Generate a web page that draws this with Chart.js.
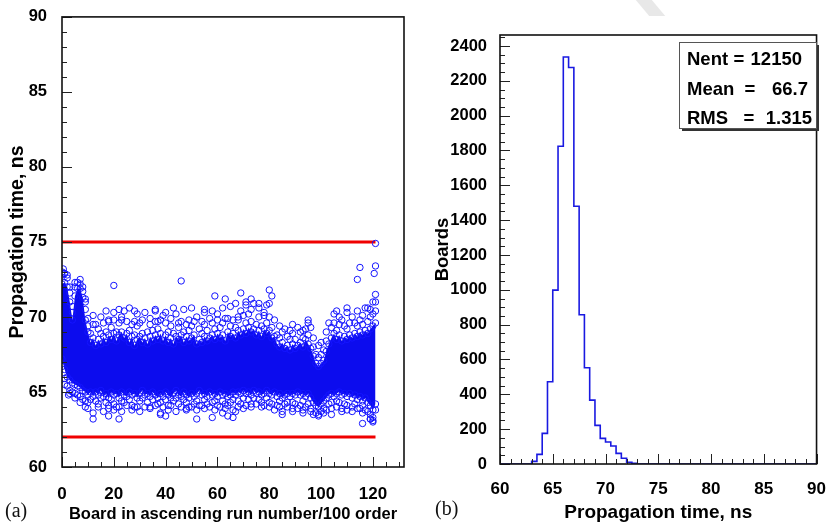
<!DOCTYPE html>
<html>
<head>
<meta charset="utf-8">
<script src="https://cdn.jsdelivr.net/npm/chart.js@4.4.1/dist/chart.umd.min.js"></script>
<style>
  body { margin: 0; background: #fff; }
  #wrap { position: relative; width: 833px; height: 526px; overflow: hidden; }
  #left { position: absolute; left: 0; top: 0; }
  #right { position: absolute; left: 420px; top: 0; }
  .tag { position: absolute; font-family: "Liberation Serif", "DejaVu Serif", serif; font-size: 20px; color: #111; line-height: 20px; }
  .mark { position: absolute; left: 640px; top: -6px; width: 16px; height: 22px; background: #e8e8e8; transform: skewX(40deg); }
</style>
</head>
<body>
<div id="wrap">
  <div class="mark"></div>
  <canvas id="left" width="420" height="526"></canvas>
  <canvas id="right" width="413" height="526"></canvas>
  <div class="tag" style="left:5px; top:500px;">(a)</div>
  <div class="tag" style="left:435px; top:498px;">(b)</div>
</div>
<script>
// ---- panel (a): propagation time per board, x = board index / 100 ----
var boardX = [];
for (var i = 0; i <= 121; i++) boardX.push(i);

// edges of the dense core of the cloud
var coreHi = [72.2,72.3,72.0,71.0,69.8,71.4,71.9,71.9,71.3,69.8, 69.0,68.3,68.6,68.1,68.5,68.2,68.7,68.3,68.8,68.5,
  68.9,68.4,68.8,69.0,68.6,68.9,68.3,68.7,68.1,68.5, 68.7,68.3,68.6,68.2,68.7,68.4,68.8,68.5,68.9,68.4,
  68.8,68.3,68.6,68.2,68.7,68.5,68.8,68.3,68.7,68.4, 68.6,68.8,68.2,68.5,68.3,68.7,68.4,68.6,68.8,68.5,
  68.9,68.6,68.8,68.4,69.0,68.7,68.9,68.6,69.1,68.8, 69.2,68.9,69.3,69.0,69.2,68.8,69.1,68.7,69.2,68.9,
  69.1,68.6,68.7,68.2,68.0,68.3,67.9,68.1,67.8,68.2, 67.9,68.1,68.3,68.0,68.5,68.2,67.9,67.4,66.9,66.7,
  66.9,67.1,67.7,68.2,68.6,68.9,68.5,68.8,68.4,68.7, 68.5,68.8,68.6,68.9,68.7,69.0,68.8,69.1,68.9,69.2,
  69.4,69.6];
var coreLo = [67.2,66.5,66.0,65.8,65.6,65.5,65.4,65.3,65.1,65.0, 64.8,65.0,64.7,65.0,64.8,65.1,64.7,64.9,64.6,65.0,
  64.8,64.9,64.6,65.0,64.8,64.7,65.0,64.8,64.9,64.6, 64.9,65.1,64.8,64.9,64.7,65.0,64.8,64.6,64.9,64.7,
  65.0,64.8,64.6,64.9,65.1,64.8,64.7,65.0,64.8,64.6, 64.9,64.7,64.9,65.1,64.8,64.9,64.7,65.0,64.8,64.9,
  64.7,65.0,64.8,64.9,64.7,64.8,65.0,64.8,65.0,64.9, 65.1,64.9,65.0,64.8,65.1,64.9,65.0,64.8,64.9,65.1,
  64.9,64.8,65.0,64.7,64.9,64.6,64.8,64.9,64.7,64.9, 64.8,65.0,64.8,64.9,64.7,64.9,64.6,64.3,64.1,64.0,
  64.2,64.4,64.6,64.8,64.9,64.7,64.9,65.0,64.8,64.9, 64.7,64.9,64.6,64.8,64.5,64.7,64.4,64.6,64.3,64.1,
  63.8,64.2];
// scattered circles above the core (inner and outer fringe)
var upB = [72.8,72.9,72.6,71.6,70.3,72.0,72.3,72.2,71.7,70.5, 69.4,68.9,69.5,null,69.2,68.9,69.6,69.0,69.7,69.3,
  69.8,69.0,69.6,70.0,null,69.7,69.1,69.5,68.8,69.4, 69.6,68.9,null,69.0,69.5,69.1,69.7,69.2,69.8,null,
  69.6,69.0,69.4,68.9,null,69.3,69.7,69.0,69.5,69.1, 69.4,69.7,null,69.2,68.9,69.5,69.1,null,69.6,69.2,
  69.8,69.3,69.6,null,69.9,69.4,69.8,69.3,70.0,null, 70.1,69.6,70.2,69.7,null,69.5,70.0,69.4,70.1,69.6,
  70.0,69.3,null,68.8,68.6,69.0,null,68.7,68.5,68.9, 68.5,null,69.0,68.6,69.2,68.8,null,68.0,67.5,67.3,
  67.5,67.8,68.4,null,69.3,69.6,69.1,69.5,null,69.4, 69.2,69.6,null,69.6,69.4,69.8,69.5,null,69.7,70.0,
  70.2,70.4];
var upA = [73.0,null,72.8,72.0,70.7,72.3,null,72.5,72.0,71.0, 69.9,null,70.1,69.5,null,70.0,null,70.4,69.8,null,
  70.3,null,70.5,69.8,70.4,null,70.6,null,69.7,70.2, null,69.8,70.3,null,69.9,null,70.4,69.7,null,70.1,
  70.3,null,69.9,null,70.2,69.6,null,70.5,null,69.8, 70.6,null,70.0,null,69.7,70.3,null,69.9,70.4,null,
  70.2,null,70.6,69.9,null,70.7,null,70.9,69.8,70.4, null,70.8,null,70.5,70.9,null,70.6,null,70.3,70.8,
  70.9,null,69.8,null,69.4,null,69.2,null,69.1,69.5, null,69.3,null,69.1,null,69.6,null,68.6,null,68.1,
  68.3,null,69.0,69.6,null,70.2,null,70.0,69.8,null, 70.3,null,70.0,null,70.4,null,70.1,70.6,null,70.5,
  71.0,null];
// scattered circles below the core
var loB = [66.7,65.9,65.4,65.1,65.0,64.9,64.8,64.7,64.5,64.4, 64.3,64.5,null,64.4,64.2,64.6,null,64.3,64.1,64.5,
  64.2,null,64.0,64.4,64.3,null,64.5,64.1,null,64.0, 64.4,64.6,null,64.3,64.0,64.5,null,64.2,64.3,null,
  64.5,64.1,null,64.4,64.6,64.2,null,64.5,64.3,64.0, null,64.2,64.4,null,64.1,64.5,64.2,null,64.3,64.4,
  64.1,null,64.4,64.2,null,64.3,64.5,null,64.4,64.2, 64.6,null,64.5,64.2,64.6,null,64.5,64.3,null,64.6,
  64.3,64.2,null,64.1,64.4,null,64.2,64.3,null,64.3, 64.2,null,64.1,64.4,null,64.2,63.9,null,63.6,63.5,
  63.7,63.9,null,64.2,64.3,null,64.4,64.3,null,64.2, 64.1,null,64.0,64.2,null,63.9,64.1,null,63.7,63.5,
  63.3,63.8];
var loA = [null,65.5,null,64.9,null,64.6,null,64.3,null,64.0, 63.9,null,63.6,null,64.0,null,63.7,null,63.9,null,
  63.8,64.0,null,63.7,null,64.1,null,63.8,64.0,null, 63.7,null,64.0,null,63.9,null,64.1,null,63.6,64.0,
  null,63.8,64.1,null,63.7,null,64.0,null,63.9,null, 64.0,null,63.8,64.1,null,63.9,null,64.0,null,63.8,
  null,64.0,null,63.9,64.1,null,63.8,null,64.0,null, 63.9,64.1,null,64.0,null,64.2,null,64.0,64.1,null,
  64.0,null,63.8,null,64.0,63.7,null,64.0,null,63.9, null,63.9,null,63.8,64.0,null,63.7,63.5,null,63.4,
  null,63.6,63.8,null,63.9,null,64.0,null,63.9,null, 63.8,null,63.7,null,63.9,null,63.6,63.8,null,63.2,
  63.1,null];
// isolated boards [x, y]
var outliers = [[0.5,73.2],[1,72.9],[2.5,64.8],[9,71.2],[12,63.2],[18,63.4],[20,72.1],[22,63.2],[28,70.4],
  [36,70.5],[38,63.5],[40,63.4],[43,70.6],[46,72.4],[48,63.8],[52,63.2],[55,70.5],[58,63.3],[59,71.4],
  [62,63.6],[63,71.2],[64,63.4],[66,63.3],[67,63.7],[69,71.6],[71,71.0],[73,71.2],[76,70.9],[80,71.8],
  [81,71.4],[85,63.5],[89,63.7],[93,63.6],[95,69.8],[96,69.3],[104,63.5],[106,70.4],[108,63.7],[110,70.6],
  [114,72.5],[115,73.3],[116,62.9],[118,70.6],[119,63.2],[120,63.0],[120.5,72.9],[121,74.9],[121,73.4],
  [121,71.5],[121,71.0]];
var limitHi = 75, limitLo = 62;
var limitX = [0, 121];

// ---- panel (b): histogram, 0.5 ns bins from 60 to 90 ----
var binLow = [];
for (var b = 0; b < 60; b++) binLow.push(60 + b * 0.5);
var counts = [0,0,0,0,0,0,15,55,176,472, 998,1824,2337,2276,1480,857,553,367,222,147,
  126,103,61,33,10,4,0,0,0,0, 0,0,0,0,0,0,0,0,0,0, 0,0,0,0,0,0,0,0,0,0, 0,0,0,0,0,0,0,0,0,0];
var statLabels = ["Nent", "Mean", "RMS"];
var statValues = ["12150", "66.7", "1.315"];

var FONT = '"Liberation Sans", Arial, Helvetica, sans-serif';
var BLUE = 'rgb(20,20,255)';
Chart.defaults.font.family = FONT;
Chart.defaults.color = '#000';

function pts(ys) { return boardX.map(function (x, i) { return { x: x, y: ys[i] }; }); }

function pointSet(data, extra) {
  var d = {
    data: data, showLine: false, pointRadius: 3.2, pointBorderWidth: 1,
    pointBorderColor: BLUE, pointBackgroundColor: 'rgba(0,0,0,0)', borderColor: 'rgba(0,0,0,0)'
  };
  for (var k in extra) d[k] = extra[k];
  return d;
}

function frameTicks(xMinor, xMajor, yMinor, yMajor) {
  return {
    id: 'frameTicks',
    afterDatasetsDraw: function (chart) {
      var ctx = chart.ctx, ca = chart.chartArea, xs = chart.scales.x, ys = chart.scales.y;
      ctx.save();
      ctx.strokeStyle = '#222';
      ctx.lineWidth = 1;
      ctx.beginPath();
      for (var v = xs.min; v <= xs.max + 1e-6; v += xMinor) {
        var px = Math.round(xs.getPixelForValue(v)) + 0.5;
        var major = Math.abs(v / xMajor - Math.round(v / xMajor)) < 1e-6;
        ctx.moveTo(px, ca.bottom);
        ctx.lineTo(px, ca.bottom - (major ? 10 : 5));
      }
      for (var w = ys.min; w <= ys.max + 1e-6; w += yMinor) {
        var py = Math.round(ys.getPixelForValue(w)) + 0.5;
        var maj = Math.abs(w / yMajor - Math.round(w / yMajor)) < 1e-6;
        ctx.moveTo(ca.left, py);
        ctx.lineTo(ca.left + (maj ? 10 : 5), py);
      }
      ctx.stroke();
      ctx.lineWidth = 1.6;
      ctx.strokeStyle = '#111';
      ctx.strokeRect(ca.left, ca.top, ca.right - ca.left, ca.bottom - ca.top);
      ctx.restore();
    }
  };
}

function plain(v) { return String(v); }

function axisX(min, max, step, h, tickPad, title, titleSize, titlePad) {
  return {
    type: 'linear', min: min, max: max, position: 'bottom',
    grid: { display: false }, border: { display: false },
    ticks: { stepSize: step, includeBounds: false, padding: tickPad, maxRotation: 0, callback: plain,
      font: { size: 17, weight: 'bold' }, color: '#000' },
    title: { display: true, text: title, color: '#000',
      font: { size: titleSize, weight: 'bold', lineHeight: 1 }, padding: { top: 0, bottom: titlePad } },
    afterFit: function (s) { s.height = h; }
  };
}
function axisY(min, max, step, w, tickPad, title, titleSize, titlePad) {
  return {
    type: 'linear', min: min, max: max, position: 'left',
    grid: { display: false }, border: { display: false },
    ticks: { stepSize: step, includeBounds: false, padding: tickPad, callback: plain,
      font: { size: 16.5, weight: 'bold' }, color: '#000' },
    title: { display: true, text: title, color: '#000',
      font: { size: titleSize, weight: 'bold', lineHeight: 1 }, padding: { top: titlePad, bottom: 0 } },
    afterFit: function (s) { s.width = w; }
  };
}

new Chart(document.getElementById('left'), {
  type: 'line',
  data: {
    datasets: [
      pointSet(outliers.map(function (p) { return { x: p[0], y: p[1] }; })),
      pointSet(pts(upA)), pointSet(pts(upB)), pointSet(pts(loA)), pointSet(pts(loB)),
      pointSet(pts(coreLo)),
      pointSet(pts(coreHi), { showLine: true, fill: '-1', backgroundColor: 'rgb(12,12,238)', borderWidth: 0 }),
      { data: limitX.map(function (x) { return { x: x, y: limitHi }; }), borderColor: 'rgb(240,0,0)', borderWidth: 3, pointRadius: 0 },
      { data: limitX.map(function (x) { return { x: x, y: limitLo }; }), borderColor: 'rgb(240,0,0)', borderWidth: 3, pointRadius: 0 }
    ]
  },
  options: {
    responsive: false, animation: false, events: [],
    layout: { padding: { left: 0, top: 14, right: 16, bottom: 0 } },
    plugins: { legend: { display: false }, tooltip: { enabled: false } },
    scales: {
      x: axisX(0, 132, 20, 59, 9, 'Board in ascending run number/100 order', 16.5, 3),
      y: axisY(60, 90, 5, 62, 7, 'Propagation time, ns', 19.5, 8)
    }
  },
  plugins: [frameTicks(5, 20, 1, 5)]
});

var statsBox = {
  id: 'statsBox',
  afterDraw: function (chart) {
    var ctx = chart.ctx;
    var l = 259, t = 42, r = 396, btm = 128;
    ctx.save();
    ctx.fillStyle = '#333';
    ctx.fillRect(l + 3, t + 3, r - l, btm - t);
    ctx.fillStyle = '#fff';
    ctx.fillRect(l, t, r - l, btm - t);
    ctx.strokeStyle = '#555';
    ctx.lineWidth = 1;
    ctx.strokeRect(l + 0.5, t + 0.5, r - l, btm - t);
    ctx.fillStyle = '#000';
    ctx.font = 'bold 18.5px ' + FONT;
    var base = [65, 95, 124], eqX = [319, 330, 329], valR = [382, 388, 392];
    for (var i = 0; i < 3; i++) {
      ctx.textAlign = 'left';
      ctx.fillText(statLabels[i], 267, base[i]);
      ctx.textAlign = 'center';
      ctx.fillText('=', eqX[i], base[i]);
      ctx.textAlign = 'right';
      ctx.fillText(statValues[i], valR[i], base[i]);
    }
    ctx.restore();
  }
};

var histPts = binLow.map(function (x, i) { return { x: x, y: counts[i] }; });
histPts.push({ x: 90, y: counts[counts.length - 1] });

new Chart(document.getElementById('right'), {
  type: 'line',
  data: {
    datasets: [{
      data: histPts, stepped: true, borderColor: 'rgb(25,25,225)', borderWidth: 1.6, pointRadius: 0, fill: false
    }]
  },
  options: {
    responsive: false, animation: false, events: [],
    layout: { padding: { left: 0, top: 35, right: 10, bottom: 0 } },
    plugins: { legend: { display: false }, tooltip: { enabled: false } },
    scales: {
      x: axisX(60, 90, 5, 62, 7, 'Propagation time, ns', 19, 4),
      y: axisY(0, 2463, 200, 80, 5, 'Boards', 18.5, 14)
    }
  },
  plugins: [frameTicks(1, 5, 50, 200), statsBox]
});
</script>
</body>
</html>
